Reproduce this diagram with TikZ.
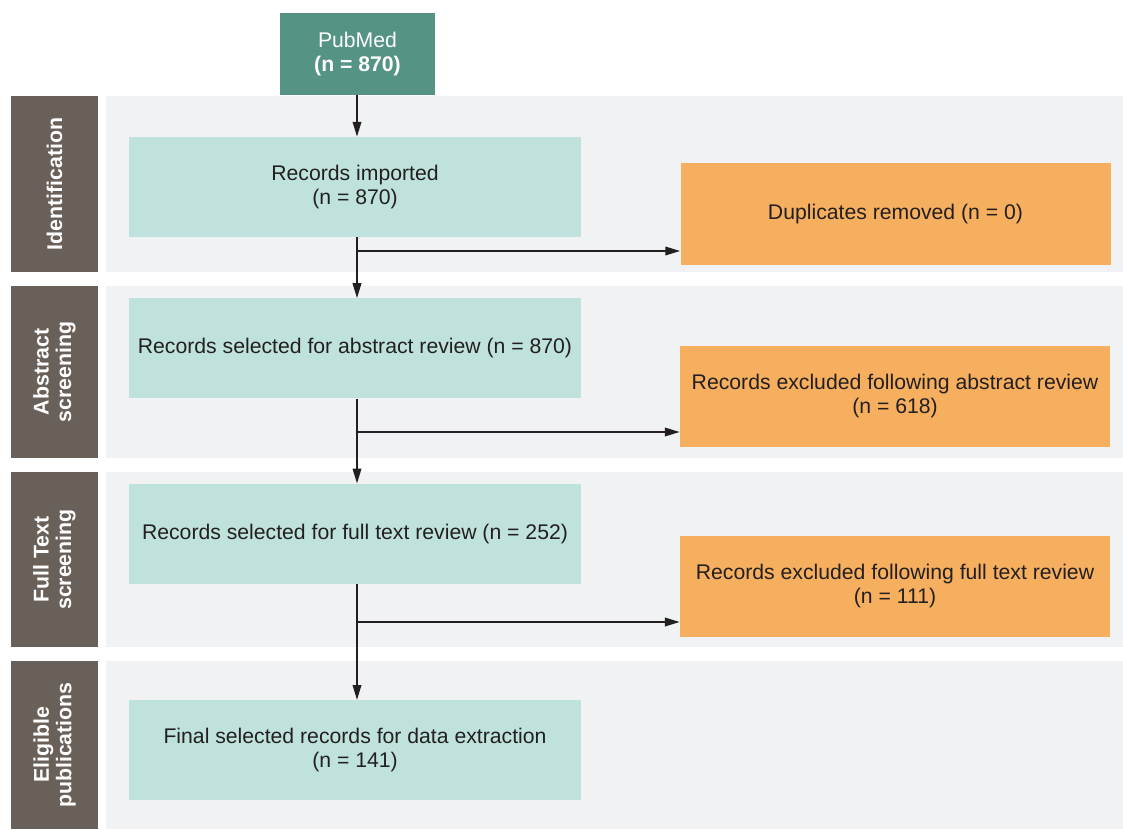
\documentclass[tikz,border=0pt]{standalone}
\usepackage{fontspec}
\setmainfont{Liberation Sans}
\usepackage{xcolor}
\usetikzlibrary{positioning,arrows.meta}

\definecolor{pubgreen}{HTML}{559385}
\definecolor{recteal}{HTML}{BFE3DC}
\definecolor{exorange}{HTML}{F6AF5F}
\definecolor{sidegray}{HTML}{6A605A}
\definecolor{panelgray}{HTML}{F1F2F4}
\definecolor{inkblack}{HTML}{231F20}

\begin{document}
\begin{tikzpicture}[
  x=1pt, y=-1pt,
  every node/.style = {font=\fontsize{21.2}{24}\selectfont, inner sep=0pt, text=inkblack},
  panel/.style = {fill=panelgray, anchor=north west, minimum width=1017pt},
  side/.style  = {fill=sidegray, text=white, rotate=90, minimum height=87pt,
                  align=center, font=\bfseries\fontsize{21.3}{22.5}\selectfont},
  pub/.style   = {fill=pubgreen, text=white, align=center,
                  minimum width=155pt, minimum height=82pt},
  rec/.style   = {fill=recteal, align=center, minimum width=452pt, minimum height=100pt},
  excl/.style  = {fill=exorange, align=center, minimum width=430pt, minimum height=101pt},
  ar/.style    = {-{Triangle[length=15pt, width=8.5pt]}, line width=2pt, draw=inkblack}
]
\useasboundingbox (0,0) rectangle (1123,829);

% bands
\node[panel, minimum height=176pt] (panelA) at (106,96)  {};
\node[panel, minimum height=172pt] (panelB) at (106,286) {};
\node[panel, minimum height=175pt] (panelC) at (106,472) {};
\node[panel, minimum height=168pt] (panelD) at (106,661) {};

\node[side, minimum width=176pt] (sideA) at (54.5,184)   {Identification};
\node[side, minimum width=172pt] (sideB) at (54.5,372)   {Abstract\\screening};
\node[side, minimum width=175pt] (sideC) at (54.5,559.5) {Full Text\\screening};
\node[side, minimum width=168pt] (sideD) at (54.5,745)   {Eligible\\publications};

% boxes
\node[pub] (pubmed) at (357.5,54) {PubMed\\\textbf{(n = 870)}};

\node[rec] (rec1) at (355,187) {Records imported\\(n = 870)};
\node[rec, below=61pt of rec1]  (rec2) {Records selected for abstract review (n = 870)};
\node[rec, below=85pt of rec2]  (rec3) {Records selected for full text review (n = 252)};
\node[rec, below=116pt of rec3] (rec4) {Final selected records for data extraction\\(n = 141)};

\node[excl] (excl1) at (895.5,214) {Duplicates removed (n = 0)};
\node[excl] (excl2) at (895,396)   {Records excluded following abstract review\\(n = 618)};
\node[excl] (excl3) at (895,586)   {Records excluded following full text review\\(n = 111)};

% connectors
\coordinate (b1) at (357,251);
\coordinate (b2) at (357,432);
\coordinate (b3) at (357,622);

\draw[ar] (pubmed.south -| b1) -- (rec1.north -| b1);
\draw[ar] (rec1.south -| b1) -- (rec2.north -| b1);
\draw[ar] (rec2.south -| b2) -- (rec3.north -| b2);
\draw[ar] (rec3.south -| b3) -- (rec4.north -| b3);

\draw[ar] (b1) -- (b1 -| excl1.west);
\draw[ar] (b2) -- (b2 -| excl2.west);
\draw[ar] (b3) -- (b3 -| excl3.west);

\end{tikzpicture}
\end{document}
